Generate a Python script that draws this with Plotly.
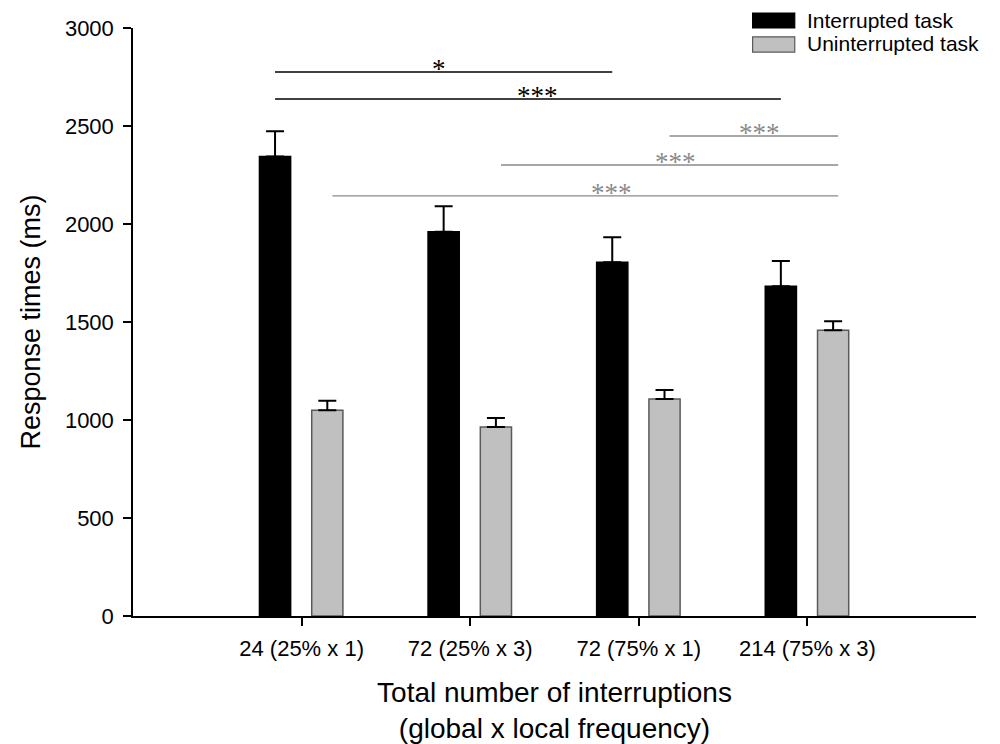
import plotly.graph_objects as go

# ---- data ----
categories = ["24 (25% x 1)", "72 (25% x 3)", "72 (75% x 1)", "214 (75% x 3)"]
interrupted = [2345, 1960, 1805, 1683]
interrupted_err = [128, 130, 128, 128]
uninterrupted = [1050, 964, 1107, 1458]
uninterrupted_err = [48, 46, 46, 46]
series_names = ["Interrupted task", "Uninterrupted task"]

# significance comparisons: (group a, group b, label, y level)
int_comparisons = [(0, 2, "*", 2776), (0, 3, "***", 2638)]
unint_comparisons = [(2, 3, "***", 2449), (1, 3, "***", 2301), (0, 3, "***", 2143)]
int_star_x = [0.815, 1.40]
unint_star_x = [2.714, 2.22, 1.84]

# ---- style ----
FONT = "Liberation Sans"
BAR_W = 0.185
OFF_INT = -0.25
OFF_UNI = 0.06
C_INT = "#000000"
C_UNI = "#c0c0c0"
C_UNI_LINE = "#5a5a5a"
C_SIG_GRAY = "#8a8a8a"

fig = go.Figure()
fig.add_trace(go.Bar(
    x=categories, y=interrupted, name=series_names[0],
    width=BAR_W, offset=OFF_INT,
    marker=dict(color=C_INT, line=dict(color="#000000", width=1.5)),
    error_y=dict(type="data", array=interrupted_err, arrayminus=[0] * len(categories),
                 symmetric=False, color="#000000", thickness=2, width=9),
    showlegend=False,
))
fig.add_trace(go.Bar(
    x=categories, y=uninterrupted, name=series_names[1],
    width=BAR_W, offset=OFF_UNI,
    marker=dict(color=C_UNI, line=dict(color=C_UNI_LINE, width=1.5)),
    error_y=dict(type="data", array=uninterrupted_err, arrayminus=[0] * len(categories),
                 symmetric=False, color="#000000", thickness=2, width=9),
    showlegend=False,
))

int_center = OFF_INT + BAR_W / 2
uni_center = OFF_UNI + BAR_W / 2

shapes = []
annotations = []
for (a, b, lab, yv), sx in zip(int_comparisons, int_star_x):
    shapes.append(dict(type="line", xref="x", yref="y", x0=a + int_center, x1=b + int_center,
                       y0=yv, y1=yv, line=dict(color="#000000", width=1.5)))
    annotations.append(dict(x=sx, y=yv, xref="x", yref="y", text=lab, showarrow=False,
                            yanchor="middle", yshift=3,
                            font=dict(family="Liberation Serif", size=27, color="#000000")))
for (a, b, lab, yv), sx in zip(unint_comparisons, unint_star_x):
    shapes.append(dict(type="line", xref="x", yref="y", x0=a + uni_center + 0.03, x1=b + uni_center + 0.03,
                       y0=yv, y1=yv, line=dict(color=C_SIG_GRAY, width=1.3)))
    annotations.append(dict(x=sx, y=yv, xref="x", yref="y", text=lab, showarrow=False,
                            yanchor="middle", yshift=3,
                            font=dict(family="Liberation Serif", size=27, color=C_SIG_GRAY)))

# manual legend (boxes + text)
legend_rows = [(C_INT, "#000000", 1.0255, 1.0, 1.0136),
               (C_UNI, C_UNI_LINE, 0.985, 0.959, 0.973)]
for (fc, lc, y1, y0, yt), name in zip(legend_rows, series_names):
    shapes.append(dict(type="rect", xref="paper", yref="paper", x0=0.735, x1=0.785, y0=y0, y1=y1,
                       fillcolor=fc, line=dict(color=lc, width=1.2)))
    annotations.append(dict(x=0.797, y=yt, xref="paper", yref="paper", text=name, showarrow=False,
                            xanchor="left", yanchor="middle",
                            font=dict(family=FONT, size=21, color="#000000")))

# the page body adds an 8px offset, so the figure is 8px smaller than the window
fig.update_layout(
    width=992, height=736,
    margin=dict(l=125, r=24, t=20, b=128),
    paper_bgcolor="white", plot_bgcolor="white",
    barmode="overlay",
    font=dict(family=FONT, color="#000000"),
    shapes=shapes, annotations=annotations,
    showlegend=False,
)
fig.update_xaxes(
    type="category", range=[-1, 4], automargin=False,
    showline=True, linecolor="#000000", linewidth=1.5,
    ticks="outside", ticklen=8, tickwidth=1.5, tickcolor="#000000",
    showgrid=False, zeroline=False,
    tickfont=dict(family=FONT, size=22), ticklabelstandoff=4,
    title=dict(text="Total number of interruptions<br>(global x local frequency)",
               font=dict(family=FONT, size=28), standoff=24),
)
fig.update_yaxes(
    range=[0, 3000], tickvals=[0, 500, 1000, 1500, 2000, 2500, 3000], automargin=False,
    showline=True, linecolor="#000000", linewidth=1.5,
    ticks="outside", ticklen=8, tickwidth=1.5, tickcolor="#000000",
    showgrid=False, zeroline=False,
    tickfont=dict(family=FONT, size=22), ticklabelstandoff=5,
    title=dict(text="Response times (ms)", font=dict(family=FONT, size=27), standoff=16),
)

fig.write_html("out.html")
